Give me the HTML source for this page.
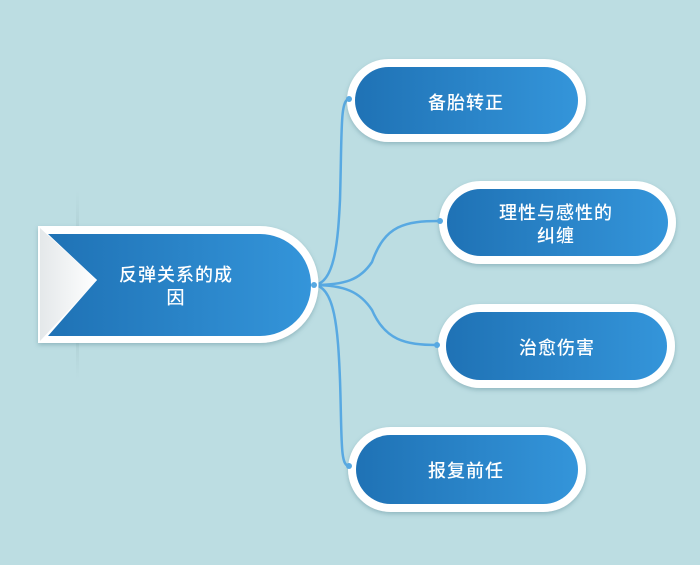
<!DOCTYPE html>
<html><head><meta charset="utf-8"><style>
html,body{margin:0;padding:0;background:#bcdde2;}
svg{display:block}
text{font-family:"Liberation Sans","Noto Sans CJK SC",sans-serif;fill:#fff;font-size:18px;font-weight:500;text-anchor:middle;letter-spacing:1px}
</style></head><body>
<svg width="700" height="565" viewBox="0 0 700 565" xmlns="http://www.w3.org/2000/svg">
<defs>
<linearGradient id="g" x1="0" x2="1" y1="0" y2="0">
<stop offset="0" stop-color="#1f72b5"/><stop offset="1" stop-color="#3495da"/>
</linearGradient>
<linearGradient id="w" x1="0" x2="1"><stop offset="0" stop-color="#e4e8ea"/><stop offset="1" stop-color="#fff"/></linearGradient>
<filter id="s" x="-10%" y="-20%" width="120%" height="150%"><feDropShadow dx="0" dy="2" stdDeviation="2.5" flood-color="#5a8a95" flood-opacity="0.45"/></filter>
<linearGradient id="vl" x1="0" x2="0" y1="0" y2="1"><stop offset="0" stop-color="#a9c9ce" stop-opacity="0"/><stop offset="0.5" stop-color="#98b8bd"/><stop offset="1" stop-color="#a9c9ce" stop-opacity="0"/></linearGradient>
</defs>
<rect width="700" height="565" fill="#bcdde2"/>
<rect x="76" y="190" width="3" height="190" fill="url(#vl)"/>
<g fill="none" stroke="#58a9e2" stroke-width="2.5">
<path d="M313 285 C335 285 338 240 340 200 C342 130 340 100 349 99"/>
<path d="M313 285 C345 285 360 280 372 262 C385 225 405 221 440 221"/>
<path d="M313 285 C345 285 360 292 372 310 C385 340 405 345 437 345"/>
<path d="M313 285 C335 285 338 330 340 380 C342 440 340 466 349 466"/>
</g>
<g filter="url(#s)">
<path d="M38 226 H260 A58.5 58.5 0 0 1 260 343 H38 Z" fill="#fff"/>
</g>
<path d="M48 234 H260 A51 51 0 0 1 260 336 H48 L97 280 Z" fill="url(#g)"/>
<path d="M40 228 L97 280 L40 341 Z" fill="url(#w)"/>
<text x="176" y="281">反弹关系的成</text>
<text x="176" y="304">因</text>
<g filter="url(#s)" fill="#fff">
<rect x="347" y="59" width="239" height="83" rx="41.5"/>
<rect x="439" y="181" width="237" height="83" rx="41.5"/>
<rect x="438" y="304" width="237" height="84" rx="42"/>
<rect x="348" y="427" width="238" height="85" rx="42.5"/>
</g>
<g fill="url(#g)">
<rect x="355" y="67" width="223" height="67" rx="33.5"/>
<rect x="447" y="189" width="221" height="67" rx="33.5"/>
<rect x="446" y="312" width="221" height="68" rx="34"/>
<rect x="356" y="435" width="222" height="69" rx="34.5"/>
</g>
<g fill="#58a9e2"><circle cx="349" cy="99" r="3"/><circle cx="440" cy="221" r="3"/><circle cx="437" cy="345" r="3"/><circle cx="349" cy="466" r="3"/><circle cx="314" cy="285" r="3"/></g>
<text x="466" y="109">备胎转正</text>
<text x="556" y="219">理性与感性的</text>
<text x="556" y="242">纠缠</text>
<text x="557" y="354">治愈伤害</text>
<text x="466" y="477">报复前任</text>
</svg>
</body></html>
